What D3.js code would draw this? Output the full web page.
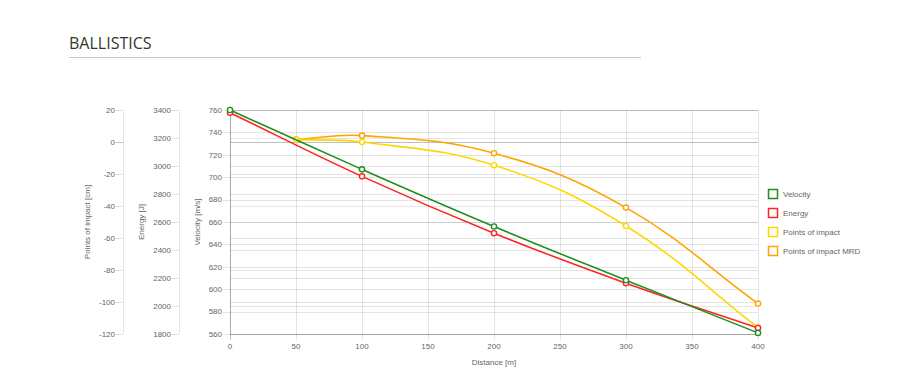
<!DOCTYPE html>
<html>
<head>
<meta charset="utf-8">
<script src="https://cdn.jsdelivr.net/npm/d3@7"></script>
<style>
  html, body { margin: 0; padding: 0; background: #fff; }
  svg { display: block; }
  text { font-family: "Liberation Sans", Arial, sans-serif; }
</style>
</head>
<body>
<svg id="chart" width="900" height="388"></svg>
<script>
// ---- data ----
const distances = [0, 100, 200, 300, 400];
const velocity = [760, 707, 656, 608, 561];
const energy = [3381, 2926, 2520, 2163, 1843];
const poiDistances = [50, 100, 200, 300, 400];
const pointsOfImpact = [1.5, 0, -14.5, -52.5, -116];
const pointsOfImpactMRD = [1.5, 4, -7, -41, -101];
const xTicks = [0, 50, 100, 150, 200, 250, 300, 350, 400];
const velocityTicks = [560, 580, 600, 620, 640, 660, 680, 700, 720, 740, 760];
const energyTicks = [1800, 2000, 2200, 2400, 2600, 2800, 3000, 3200, 3400];
const poiTicks = [-120, -100, -80, -60, -40, -20, 0, 20];
const legendLabels = ["Velocity", "Energy", "Points of impact", "Points of impact MRD"];
const colors = ["#1f8f1f", "#ff2424", "#ffd700", "#ffa500"];

(function () {
const svg = d3.select("#chart");
const pLeft = 230, pRight = 758, pTop = 110, pBottom = 334;

const x = d3.scaleLinear().domain([0, 400]).range([pLeft, pRight]);
const yV = d3.scaleLinear().domain([560, 760]).range([pBottom, pTop]);
const yE = d3.scaleLinear().domain([1800, 3400]).range([pBottom, pTop]);
const yP = d3.scaleLinear().domain([-120, 20]).range([pBottom, pTop]);

// ---- title ----
svg.append("text").attr("x", 69).attr("y", 49)
  .style("font-family", "'Open Sans', sans-serif").style("font-size", "16px")
  .attr("fill", "#2e3a28").text("BALLISTICS");
svg.append("line").attr("x1", 69).attr("x2", 641).attr("y1", 57.5).attr("y2", 57.5)
  .attr("stroke", "#c8c8c8").attr("stroke-width", 1);

const grid = svg.append("g");
const gridC = "rgba(0,0,0,0.1)", zeroC = "rgba(0,0,0,0.25)";

// vertical gridlines
xTicks.forEach(t => {
  grid.append("line").attr("x1", x(t) + 0.5).attr("x2", x(t) + 0.5)
    .attr("y1", pTop).attr("y2", pBottom + 6)
    .attr("stroke", t === 0 ? zeroC : gridC);
});
// horizontal gridlines for each y axis
function hGrid(scale, ticks, axisX, zeroVal) {
  ticks.forEach(t => {
    const y = Math.round(scale(t)) + 0.5;
    grid.append("line").attr("x1", pLeft).attr("x2", pRight).attr("y1", y).attr("y2", y)
      .attr("stroke", t === zeroVal ? zeroC : gridC);
    grid.append("line").attr("x1", axisX - 7).attr("x2", axisX).attr("y1", y).attr("y2", y)
      .attr("stroke", t === zeroVal ? zeroC : gridC);
  });
  grid.append("line").attr("x1", axisX + 0.5).attr("x2", axisX + 0.5)
    .attr("y1", pTop).attr("y2", pBottom).attr("stroke", gridC);
}
hGrid(yV, velocityTicks, pLeft, null);
hGrid(yE, energyTicks, 179, null);
hGrid(yP, poiTicks, 123, 0);
grid.append("line").attr("x1", pLeft).attr("x2", pRight).attr("y1", pBottom + 0.5).attr("y2", pBottom + 0.5)
  .attr("stroke", gridC);

// tick labels
const tickStyle = sel => sel.style("font-size", "8px").attr("fill", "#666");
function yLabels(scale, ticks, axisX) {
  ticks.forEach(t => {
    svg.append("text").attr("x", axisX - 8).attr("y", scale(t)).attr("dy", "0.35em")
      .attr("text-anchor", "end").call(tickStyle).text(t);
  });
}
yLabels(yV, velocityTicks, pLeft);
yLabels(yE, energyTicks, 179);
yLabels(yP, poiTicks, 123);
xTicks.forEach(t => {
  svg.append("text").attr("x", x(t)).attr("y", 346).attr("dy", "0.35em")
    .attr("text-anchor", "middle").call(tickStyle).text(t);
});

// axis titles
svg.append("text").attr("x", (pLeft + pRight) / 2).attr("y", 362).attr("dy", "0.35em")
  .attr("text-anchor", "middle").call(tickStyle).text("Distance [m]");
function yTitle(cx, label) {
  svg.append("text").attr("transform", `translate(${cx},${(pTop + pBottom) / 2}) rotate(-90)`)
    .attr("dy", "0.35em").attr("text-anchor", "middle").call(tickStyle).text(label);
}
yTitle(87, "Points of impact [cm]");
yTitle(141, "Energy [J]");
yTitle(197.5, "Velocity [m/s]");

// Chart.js-like spline (tension 0.4)
function splinePath(pts, tension) {
  const p = d3.path();
  const n = pts.length;
  const cps = pts.map((cur, i) => {
    const prev = pts[i - 1] || cur, next = pts[i + 1] || cur;
    const d01 = Math.hypot(cur[0] - prev[0], cur[1] - prev[1]);
    const d12 = Math.hypot(next[0] - cur[0], next[1] - cur[1]);
    let s01 = d01 / (d01 + d12), s12 = d12 / (d01 + d12);
    if (isNaN(s01)) s01 = 0; if (isNaN(s12)) s12 = 0;
    const fa = tension * s01, fb = tension * s12;
    return {
      prev: [cur[0] - fa * (next[0] - prev[0]), cur[1] - fa * (next[1] - prev[1])],
      next: [cur[0] + fb * (next[0] - prev[0]), cur[1] + fb * (next[1] - prev[1])]
    };
  });
  p.moveTo(pts[0][0], pts[0][1]);
  for (let i = 1; i < n; i++) {
    const c1 = cps[i - 1].next, c2 = cps[i].prev;
    p.bezierCurveTo(c1[0], c1[1], c2[0], c2[1], pts[i][0], pts[i][1]);
  }
  return p.toString();
}

const series = [
  { xs: distances, ys: velocity, scale: yV, color: colors[0] },
  { xs: distances, ys: energy, scale: yE, color: colors[1] },
  { xs: poiDistances, ys: pointsOfImpact, scale: yP, color: colors[2] },
  { xs: poiDistances, ys: pointsOfImpactMRD, scale: yP, color: colors[3] }
];
series.slice().reverse().forEach(s => {
  const pts = s.xs.map((d, i) => [x(d), s.scale(s.ys[i])]);
  svg.append("path").attr("d", splinePath(pts, 0.4)).attr("fill", "none")
    .attr("stroke", s.color).attr("stroke-width", 1.6);
  svg.selectAll(null).data(pts).enter().append("circle")
    .attr("cx", d => d[0]).attr("cy", d => d[1]).attr("r", 2.6)
    .attr("fill", "#fff").attr("stroke", s.color).attr("stroke-width", 1.4);
});

// legend
legendLabels.forEach((l, i) => {
  const cy = 194 + i * 19;
  svg.append("rect").attr("x", 768.5).attr("y", cy - 4.5).attr("width", 9).attr("height", 9)
    .attr("fill", "#fff").attr("stroke", colors[i]).attr("stroke-width", 1.5);
  svg.append("text").attr("x", 783).attr("y", cy).attr("dy", "0.35em")
    .call(tickStyle).text(l);
});
})();
</script>
</body>
</html>
